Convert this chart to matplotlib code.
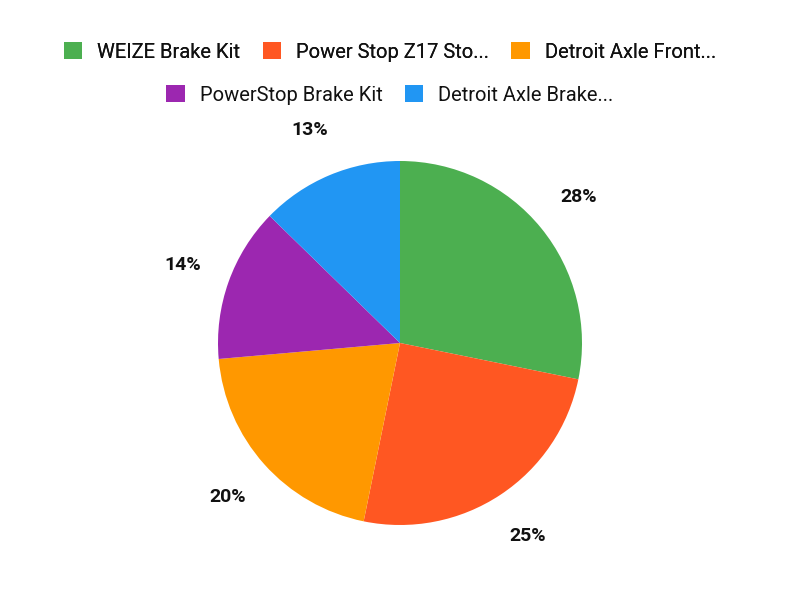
import matplotlib.pyplot as plt
from matplotlib.patches import Patch

names = [
    "WEIZE Brake Kit",
    "Power Stop Z17 Sto...",
    "Detroit Axle Front...",
    "PowerStop Brake Kit",
    "Detroit Axle Brake...",
]
shares = [28.2, 25.0, 20.4, 13.7, 12.7]
colors = ["#4CAF50", "#FF5722", "#FF9800", "#9C27B0", "#2196F3"]

plt.rcParams["font.family"] = ["Roboto", "DejaVu Sans"]

fig = plt.figure(figsize=(8, 6), dpi=100)
r_px = 182
cx, cy = 400, 343
ax = fig.add_axes([(cx - r_px) / 800, (600 - cy - r_px) / 600, 2 * r_px / 800, 2 * r_px / 600])

wedges, texts, autotexts = ax.pie(
    shares,
    colors=colors,
    startangle=90,
    counterclock=False,
    radius=1,
    autopct="%.0f%%",
    pctdistance=1.27,
    textprops={"fontsize": 14, "fontweight": "bold", "color": "#111111"},
    wedgeprops={"linewidth": 0},
)
ax.set_xlim(-1, 1)
ax.set_ylim(-1, 1)
ax.axis("off")

handles = [Patch(facecolor=c, edgecolor="none") for c in colors]
leg_kw = dict(
    loc="center", frameon=False, fontsize=14.5, handlelength=0.92, handleheight=0.92,
    handletextpad=0.75, columnspacing=1.1, labelcolor="#111111",
)
leg1 = fig.legend(handles[:3], names[:3], bbox_to_anchor=(390 / 800, 1 - 52 / 600), ncol=3, **leg_kw)
fig.add_artist(leg1)
fig.legend(handles[3:], names[3:], bbox_to_anchor=(390 / 800, 1 - 95 / 600), ncol=2, **leg_kw)

fig.savefig("out.png", dpi=100)
